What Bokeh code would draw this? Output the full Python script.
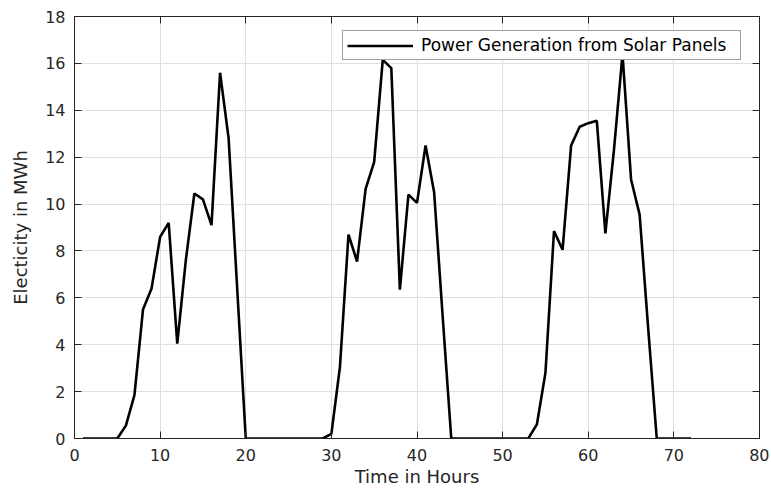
from bokeh.plotting import figure
from bokeh.models import Range1d, FixedTicker, LinearAxis, Legend, LegendItem
from bokeh.embed import file_html
from bokeh.resources import INLINE

# ---- data ----
hours = list(range(1, 73))
power_mwh = [
    0, 0, 0, 0, 0,
    0.55, 1.85, 5.5, 6.4, 8.6, 9.2, 4.05, 7.6, 10.45, 10.2, 9.1, 15.6, 12.8, 6.4, 0,
    0, 0, 0, 0, 0, 0, 0, 0, 0,
    0.2, 3.05, 8.7, 7.55, 10.65, 11.8, 16.15, 15.8, 6.35, 10.4, 10.05, 12.5, 10.5, 5.2, 0,
    0, 0, 0, 0, 0, 0, 0, 0, 0,
    0.6, 2.8, 8.85, 8.05, 12.5, 13.3, 13.45, 13.55, 8.75, 12.3, 16.4, 11.05, 9.55, 4.7, 0,
    0, 0, 0, 0,
]
x_ticks = [0, 10, 20, 30, 40, 50, 60, 70, 80]
y_ticks = [0, 2, 4, 6, 8, 10, 12, 14, 16, 18]
series_label = "Power Generation from Solar Panels"
x_title = "Time in Hours"
y_title = "Electicity in MWh"

FONT = "DejaVu Sans"
AX = "#262626"

p = figure(width=769, height=490, output_backend="svg", toolbar_location=None,
           x_range=Range1d(0, 80), y_range=Range1d(0, 18),
           min_border_left=74, min_border_right=10, min_border_top=16, min_border_bottom=52)
p.background_fill_color = "white"
p.border_fill_color = "white"
p.outline_line_color = AX
p.outline_line_width = 1

line = p.line(hours, power_mwh, line_color="black", line_width=2.6)

def style_axis(ax, ticks, labels=True):
    ax.ticker = FixedTicker(ticks=ticks)
    ax.axis_line_color = AX
    ax.major_tick_line_color = AX
    ax.major_tick_in = 7
    ax.major_tick_out = 0
    ax.minor_tick_line_color = None
    ax.major_label_text_font = FONT
    ax.axis_label_text_font = FONT
    ax.axis_label_text_color = AX
    ax.axis_label_text_font_style = "normal"
    if labels:
        ax.major_label_text_color = AX
        ax.major_label_text_font_size = "16px"
        ax.axis_label_text_font_size = "18px"
    else:
        ax.major_label_text_color = None
        ax.major_label_text_font_size = "1px"
        ax.major_label_standoff = 0

xa = p.xaxis[0]
style_axis(xa, x_ticks)
xa.axis_label = x_title
xa.major_label_standoff = 10
xa.axis_label_standoff = 2

ya = p.yaxis[0]
style_axis(ya, y_ticks)
ya.axis_label = y_title
ya.major_label_standoff = 9
ya.axis_label_standoff = 11

top = LinearAxis()
style_axis(top, x_ticks, labels=False)
p.add_layout(top, "above")
right = LinearAxis()
style_axis(right, y_ticks, labels=False)
p.add_layout(right, "right")

p.xgrid.ticker = FixedTicker(ticks=x_ticks)
p.ygrid.ticker = FixedTicker(ticks=y_ticks)
p.xgrid.grid_line_color = "#dfdfdf"
p.ygrid.grid_line_color = "#dfdfdf"

legend = Legend(items=[LegendItem(label=series_label, renderers=[line])],
                location=(268, 378))
legend.padding = 4
legend.margin = 0
legend.glyph_width = 66
legend.glyph_height = 17
legend.label_height = 17
legend.label_width = 315
legend.label_standoff = 8
legend.label_text_font = FONT
legend.label_text_font_size = "17px"
legend.label_text_color = "#000000"
legend.border_line_color = "#404040"
legend.border_line_width = 1
legend.background_fill_color = "white"
legend.background_fill_alpha = 1
p.add_layout(legend, "center")

open("out.html", "w").write(file_html(p, INLINE))
